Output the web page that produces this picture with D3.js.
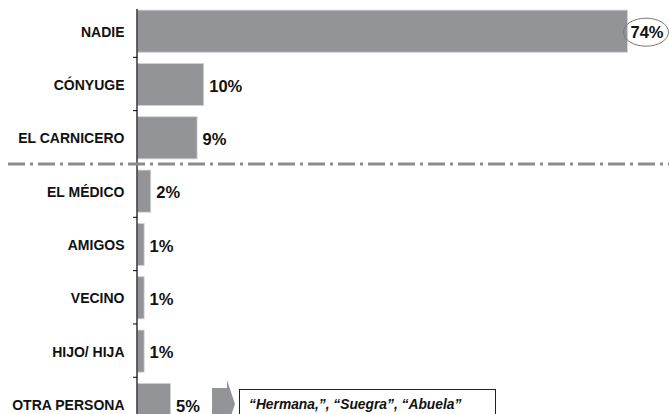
<!DOCTYPE html>
<html><head><meta charset="utf-8">
<script src="https://cdn.jsdelivr.net/npm/d3@7"></script>
<style>html,body{margin:0;padding:0;background:#fff;}svg{display:block;}</style>
</head><body>
<script>
const categories = ["NADIE","CÓNYUGE","EL CARNICERO","EL MÉDICO","AMIGOS","VECINO","HIJO/ HIJA","OTRA PERSONA"];
const values = [74,10,9,2,1,1,1,5];
const valueLabels = ["74%","10%","9%","2%","1%","1%","1%","5%"];
const noteText = "“Hermana,”, “Suegra”, “Abuela”";

const W = 669, H = 414;
const svg = d3.select("body").append("svg").attr("width", W).attr("height", H);
const font = "'Liberation Sans', Arial, sans-serif";

const x = d3.scaleLinear().domain([0, 74]).range([137, 627]);
const y = d3.scaleBand().domain(categories).range([4, 430.6]).paddingInner(0.21).paddingOuter(0.105);

// bars
svg.selectAll("rect.bar").data(categories).join("rect")
  .attr("class","bar")
  .attr("x", x(0) + 0.5)
  .attr("y", d => y(d) + 0.5)
  .attr("width", (d,i) => x(values[i]) - x(0))
  .attr("height", y.bandwidth())
  .attr("fill", "#929497")
  .attr("stroke", "#d4d4d4").attr("stroke-width", 0.8);

// axis line and ticks
svg.append("line").attr("x1",137).attr("x2",137).attr("y1",9).attr("y2",H)
  .attr("stroke","#000").attr("stroke-width",1.2);
const step = y.step();
const boundaries = categories.slice(1).map(d => y(d) - (step - y.bandwidth())/2);
svg.selectAll("line.tick").data(boundaries).join("line")
  .attr("class","tick")
  .attr("x1",133).attr("x2",137).attr("y1",d=>d).attr("y2",d=>d)
  .attr("stroke","#000").attr("stroke-width",1);

// dash-dot separator
svg.append("line").attr("x1",8).attr("x2",W).attr("y1",boundaries[2]).attr("y2",boundaries[2])
  .attr("stroke","#8c8c8c").attr("stroke-width",2.8).attr("stroke-dasharray","17,5,3,5");

// category labels
svg.selectAll("text.cat").data(categories).join("text")
  .attr("class","cat")
  .attr("x",124.5).attr("y", d => y(d) + y.bandwidth()/2 + 1)
  .attr("dy","0.35em").attr("text-anchor","end")
  .attr("font-family",font).attr("font-weight","bold").attr("font-size","14px")
  .attr("fill","#111")
  .text(d => d);

// value labels
svg.selectAll("text.val").data(categories).join("text")
  .attr("class","val")
  .attr("x",(d,i) => i===0 ? 647 : x(values[i]) + 6)
  .attr("y", d => y(d) + y.bandwidth()/2 + 2)
  .attr("dy","0.35em")
  .attr("text-anchor",(d,i) => i===0 ? "middle" : "start")
  .attr("font-family",font).attr("font-weight","bold").attr("font-size","16.5px")
  .attr("fill","#111")
  .text((d,i) => valueLabels[i]);

// ellipse around top value
svg.append("ellipse").attr("cx",646).attr("cy",y(categories[0]) + y.bandwidth()/2 + 1.5)
  .attr("rx",22.5).attr("ry",14)
  .attr("fill","none").attr("stroke","#777").attr("stroke-width",1);

// arrow + note box for last category
const yl = y(categories[7]) + y.bandwidth()/2;
svg.append("path")
  .attr("d", `M212,${yl-16}L227,${yl-16}L227,${yl-24}L235,${yl}L227,${yl+24}L227,${yl+16}L212,${yl+16}Z`)
  .attr("fill","#929497");
svg.append("rect").attr("x",239.5).attr("y",389.5).attr("width",256).attr("height",40)
  .attr("fill","#fff").attr("stroke","#222").attr("stroke-width",1);
svg.append("text").attr("x",249).attr("y",409)
  .attr("font-family",font).attr("font-weight","bold").attr("font-style","italic")
  .attr("font-size","13.8px").attr("fill","#111")
  .text(noteText);
</script>
</body></html>
